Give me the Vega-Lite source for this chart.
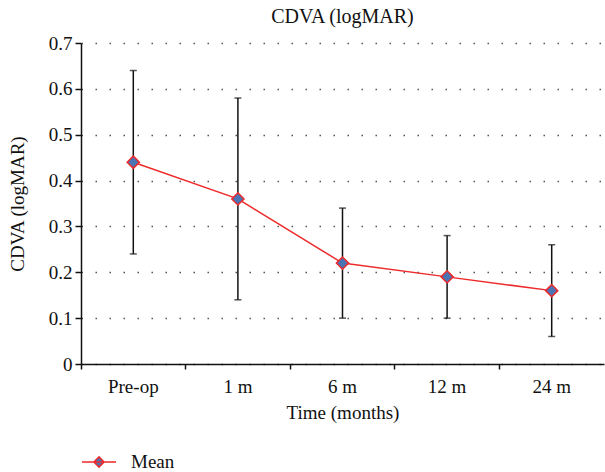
{
  "$schema": "https://vega.github.io/schema/vega-lite/v6.json",
  "width": 523,
  "height": 321,
  "autosize": {"type": "none"},
  "padding": {"left": 81, "top": 43, "right": 1, "bottom": 108},
  "background": "white",
  "title": {"text": "CDVA (logMAR)", "font": "Liberation Serif", "fontSize": 20, "fontWeight": "normal", "color": "#111", "anchor": "middle", "offset": 7},
  "data": {"values": [
    {"time": "Pre-op", "mean": 0.44, "lower": 0.24, "upper": 0.64, "series": "Mean"},
    {"time": "1 m", "mean": 0.36, "lower": 0.14, "upper": 0.58, "series": "Mean"},
    {"time": "6 m", "mean": 0.22, "lower": 0.10, "upper": 0.34, "series": "Mean"},
    {"time": "12 m", "mean": 0.19, "lower": 0.10, "upper": 0.28, "series": "Mean"},
    {"time": "24 m", "mean": 0.16, "lower": 0.06, "upper": 0.26, "series": "Mean"}
  ]},
  "encoding": {
    "x": {"field": "time", "type": "nominal", "sort": null,
      "scale": {"paddingInner": 0, "paddingOuter": 0},
      "axis": {"title": "Time (months)", "labelAngle": 0, "bandPosition": 0, "tickSize": 5, "labelPadding": 8, "titlePadding": 7}}
  },
  "layer": [
    {
      "mark": {"type": "rule", "color": "#111", "strokeWidth": 1.5},
      "encoding": {
        "y": {"field": "lower", "type": "quantitative",
          "scale": {"domain": [0, 0.7]},
          "axis": {"title": "CDVA (logMAR)", "values": [0, 0.1, 0.2, 0.3, 0.4, 0.5, 0.6, 0.7], "format": ".1~f", "grid": true, "tickSize": 6, "labelPadding": 3, "titlePadding": 21}},
        "y2": {"field": "upper"}
      }
    },
    {
      "mark": {"type": "tick", "color": "#111", "size": 7, "thickness": 1.5},
      "encoding": {"y": {"field": "upper", "type": "quantitative"}}
    },
    {
      "mark": {"type": "tick", "color": "#111", "size": 7, "thickness": 1.5},
      "encoding": {"y": {"field": "lower", "type": "quantitative"}}
    },
    {
      "mark": {"type": "line", "color": "#ee2a2a", "strokeWidth": 1.5},
      "encoding": {"y": {"field": "mean", "type": "quantitative"}}
    },
    {
      "mark": {"type": "point", "shape": "diamond", "filled": true, "size": 150, "stroke": "#ee2a2a", "strokeWidth": 1.5, "opacity": 1},
      "encoding": {
        "y": {"field": "mean", "type": "quantitative"},
        "fill": {"field": "series", "type": "nominal", "scale": {"range": ["#4a74b4"]},
          "legend": {"title": null, "orient": "none", "legendX": 0, "legendY": 401, "symbolType": "M-1,0H1M-0.3,0L0,-0.3L0.3,0L0,0.3Z", "symbolSize": 1156, "symbolStrokeColor": "#ee2a2a", "symbolStrokeWidth": 1.5, "labelFont": "Liberation Serif", "labelFontSize": 19, "labelColor": "#111", "labelOffset": 14}}
      }
    }
  ],
  "config": {
    "view": {"stroke": null},
    "axis": {
      "labelFont": "Liberation Serif", "titleFont": "Liberation Serif",
      "labelFontSize": 19, "titleFontSize": 19, "titleFontWeight": "normal",
      "labelColor": "#111", "titleColor": "#111",
      "domainColor": "#111", "tickColor": "#111", "domainWidth": 1.5, "tickWidth": 1.5,
      "gridColor": "#555", "gridDash": [1.5, 12.5], "gridWidth": 1.3
    },
    "axisX": {"grid": false}
  }
}
